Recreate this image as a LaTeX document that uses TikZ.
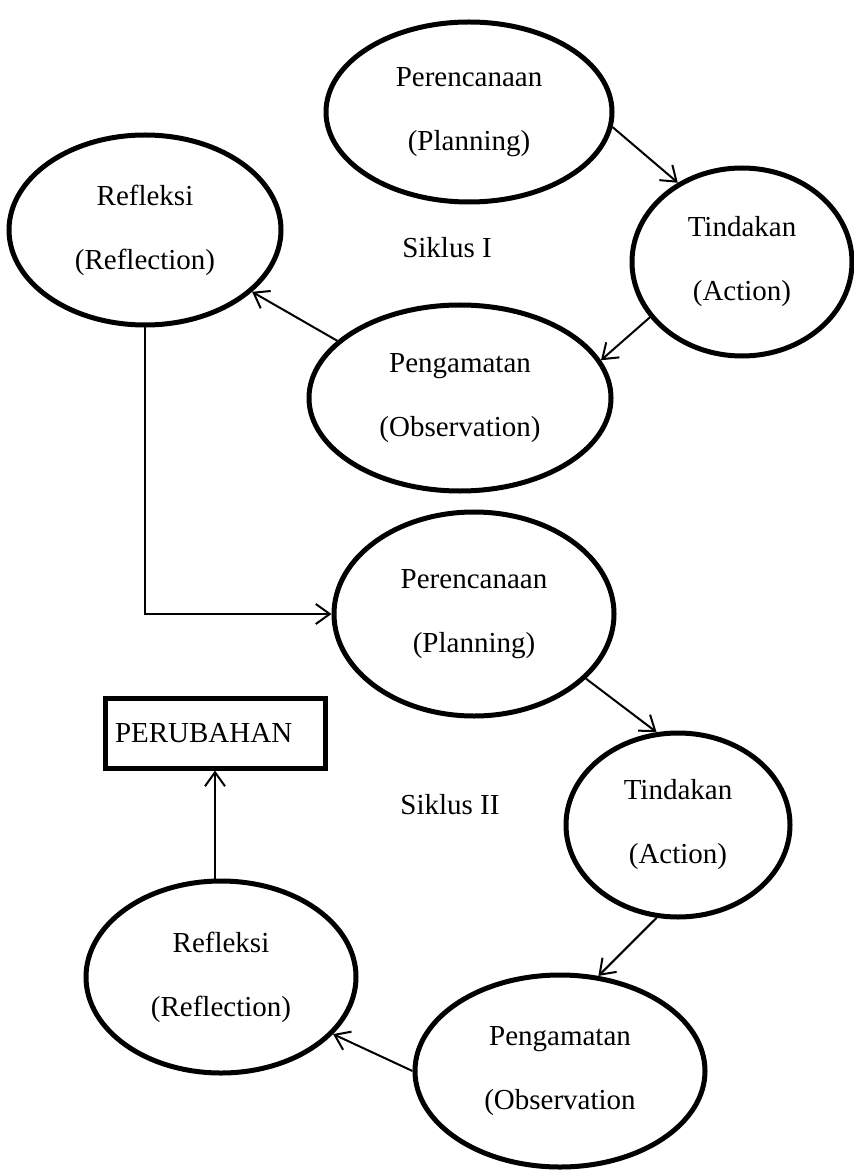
\documentclass[tikz,border=0pt]{standalone}
\usepackage{fontspec}
\setmainfont{Liberation Serif}
\usetikzlibrary{shapes.geometric,arrows.meta}
\tikzset{
  stage/.style={draw,ellipse,line width=2.5pt,align=center,inner sep=0pt,
    font=\fontsize{14.5}{32}\selectfont},
  changebox/.style={draw,line width=2.5pt,minimum height=35pt,text width=100pt,
    align=left,inner xsep=5pt,font=\fontsize{14.5}{17}\selectfont},
  label/.style={font=\fontsize{14.5}{17}\selectfont},
  flow/.style={line width=1pt,-{Straight Barb[length=7pt,width=10pt]}}
}
\begin{document}
\begin{tikzpicture}[x=0.5pt,y=-0.5pt]
\useasboundingbox (0,0) rectangle (853,1171);
\node[stage,minimum width=143pt,minimum height=90pt] (plan1) at (469,112) {Perencanaan\\(Planning)};
\node[stage,minimum width=110pt,minimum height=94pt] (act1) at (742,262) {Tindakan\\(Action)};
\node[stage,minimum width=151pt,minimum height=93pt] (obs1) at (460,398) {Pengamatan\\(Observation)};
\node[stage,minimum width=136pt,minimum height=95pt] (refl1) at (145,230) {Refleksi\\(Reflection)};
\node[label] (cyc1) at (447,248) {Siklus I};
\node[stage,minimum width=140pt,minimum height=102pt] (plan2) at (474,614) {Perencanaan\\(Planning)};
\node[stage,minimum width=112pt,minimum height=92pt] (act2) at (678,825) {Tindakan\\(Action)};
\node[stage,minimum width=145pt,minimum height=96pt] (obs2) at (560,1071) {Pengamatan\\(Observation};
\node[stage,minimum width=135pt,minimum height=96pt] (refl2) at (221,977) {Refleksi\\(Reflection)};
\node[label] (cyc2) at (450,805) {Siklus II};
\node[changebox] (change) at (215,733) {PERUBAHAN};
\draw[flow] (plan1.-6) -- (act1.129);
\draw[flow] (act1.211) -- (obs1.15);
\draw[flow] (obs1.155) -- (refl1.-30);
\draw[flow] (refl1.south) |- (plan2.west);
\draw[flow] (plan2.-30) -- (act2.103);
\draw[flow] (act2.-103) -- (obs2.68);
\draw[flow] (obs2.west) -- (refl2.-27);
\draw[flow] (change.south |- refl2.north) -- (change.south);
\end{tikzpicture}
\end{document}
